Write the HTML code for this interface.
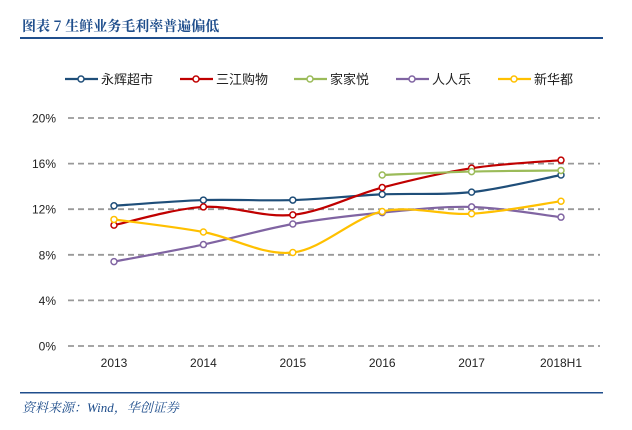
<!DOCTYPE html>
<html><head><meta charset="utf-8"><style>
body{margin:0;background:#fff;width:632px;height:430px;overflow:hidden}
svg{display:block}
</style></head><body>
<svg width="632" height="430">
<text x="22" y="31" font-family="'Noto Serif CJK SC',serif" font-weight="bold" font-size="14" fill="#1f4e8c">图表 7  生鲜业务毛利率普遍偏低</text>
<rect x="20" y="37" width="583" height="2" fill="#1f4e8c"/>
<g id="legend"></g>
<g id="grid"></g>
<g id="series"></g>
<rect x="20" y="392" width="583" height="1.5" fill="#1f4e8c"/>
<text x="22" y="412" font-family="'Liberation Serif','Noto Serif CJK SC',serif" font-style="italic" font-size="13" fill="#1f4e8c">资料来源：Wind，华创证券</text>
</svg>
<script>
const categories=["2013","2014","2015","2016","2017","2018H1"];
const yTicks=[0,4,8,12,16,20];
const names=["永辉超市","三江购物","家家悦","人人乐","新华都"];
const colors=["#1f4e79","#c00000","#9bbb59","#8064a2","#ffc000"];
const yonghui=[12.3,12.8,12.8,13.3,13.5,15.0];
const sanjiang=[10.6,12.2,11.5,13.9,15.6,16.3];
const jiajiayue=[null,null,null,15.0,15.3,15.4];
const renrenle=[7.4,8.9,10.7,11.7,12.2,11.3];
const xinhuadu=[11.1,10.0,8.2,11.8,11.6,12.7];
const seriesData=[yonghui,sanjiang,jiajiayue,renrenle,xinhuadu];
const NS="http://www.w3.org/2000/svg";
function x(i){return 114+i*89.4}
function y(v){return 346-v/20*228}
function mk(tag,attrs,parent){const e=document.createElementNS(NS,tag);for(const k in attrs)e.setAttribute(k,attrs[k]);parent.appendChild(e);return e}
const grid=document.getElementById('grid');
yTicks.forEach(t=>{
 const l=mk('line',{x1:68,x2:600,y1:y(t),y2:y(t),stroke:'#999','stroke-width':1.8,'stroke-dasharray':'6,4'},grid);
 
 
 const tx=mk('text',{x:56,y:y(t)+4.5,'text-anchor':'end','font-family':'Liberation Sans,sans-serif','font-size':12,fill:'#222'},grid);
 tx.textContent=t+'%';
 
 
});
categories.forEach((c,i)=>{
 const tx=mk('text',{x:x(i),y:367,'text-anchor':'middle','font-family':'Liberation Sans,sans-serif','font-size':12,fill:'#222'},grid);
 tx.textContent=c;
 
 
});
const sg=document.getElementById('series');
seriesData.forEach((d,s)=>{
 const pts=[];d.forEach((v,i)=>{if(v!==null)pts.push([x(i),y(v)])});
 let p='M'+pts[0][0]+','+pts[0][1];
 for(let i=0;i<pts.length-1;i++){
  const p0=pts[Math.max(i-1,0)],p1=pts[i],p2=pts[i+1],p3=pts[Math.min(i+2,pts.length-1)];
  const k=1/6;
  p+=' C'+(p1[0]+(p2[0]-p0[0])*k)+','+(p1[1]+(p2[1]-p0[1])*k)+' '+(p2[0]-(p3[0]-p1[0])*k)+','+(p2[1]-(p3[1]-p1[1])*k)+' '+p2[0]+','+p2[1];
 }
 const path=mk('path',{d:p,fill:'none',stroke:colors[s],'stroke-width':2.2},sg);
 
 
 pts.forEach(pt=>{
  const c=mk('circle',{cx:pt[0],cy:pt[1],r:3,fill:'#fff',stroke:colors[s],'stroke-width':1.5},sg);
  
  
 });
});
const lg=document.getElementById('legend');
const lx=[65,180,294,396,498];
names.forEach((n,s)=>{
 const l=mk('line',{x1:lx[s],x2:lx[s]+33,y1:79,y2:79,stroke:colors[s],'stroke-width':2.2},lg);
 
 
 const c=mk('circle',{cx:lx[s]+16,cy:79,r:3,fill:'#fff',stroke:colors[s],'stroke-width':1.5},lg);
 
 
 const t=mk('text',{x:lx[s]+36,y:84,'font-family':'Liberation Sans,Noto Sans CJK SC,sans-serif','font-size':13,fill:'#222'},lg);
 t.textContent=n;
 
 
});
</script>
</body></html>
